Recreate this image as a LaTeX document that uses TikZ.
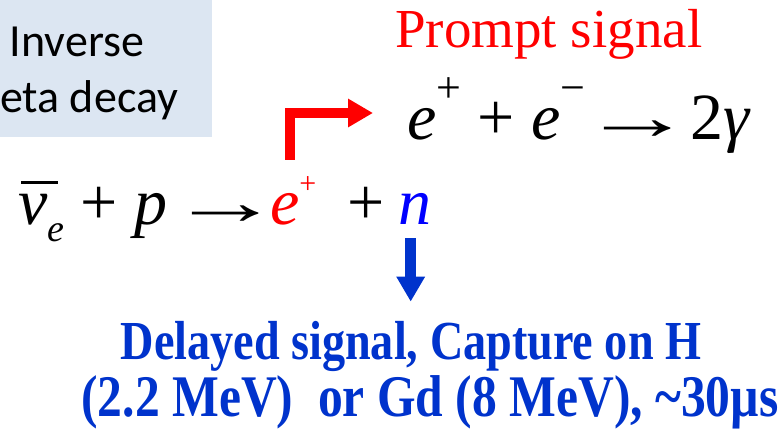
\documentclass[tikz,border=0pt]{standalone}
\usepackage{graphicx}
\usepackage{fontspec}
\setmainfont{Liberation Serif}
\newfontfamily\boxfont{Carlito}
\newfontfamily\delayfont[FakeStretch=0.84]{Liberation Serif}
\usetikzlibrary{arrows.meta, calc}
\definecolor{boxblue}{RGB}{220,230,242}
\definecolor{delayblue}{RGB}{0,51,204}
\newcommand{\supsmall}[1]{\raisebox{31pt}{\fontsize{30}{30}\selectfont #1}}
\newcommand{\supbig}[1]{\raisebox{37pt}{\fontsize{44}{44}\selectfont #1}}
\newcommand{\barnu}{\leavevmode\rlap{\kern3pt\raisebox{41pt}{\rule{37pt}{3pt}}}{\itshape ν}}
\newcommand{\lowsub}[1]{\raisebox{-17pt}{\fontsize{38}{38}\selectfont\itshape #1}}
\newcommand{\longarr}{\scalebox{1.7}[1]{→}}

\begin{document}
\begin{tikzpicture}[x=1pt, y=-1pt,
    eqn/.style={inner sep=0pt, anchor=base west, font=\fontsize{66}{66}\selectfont},
    sigred/.style={draw=red, line width=10pt, line join=miter, -{Triangle[length=25pt, width=27pt]}},
    sigblue/.style={draw=delayblue, line width=11pt, -{Triangle[length=25pt, width=27pt]}}]
    \useasboundingbox (0,0) rectangle (780,430);
    \begin{scope}
        \clip (0,0) rectangle (212,137);
        \fill[boxblue] (0,0) rectangle (212,137);
        \node[inner sep=0pt, anchor=base, align=center, font=\boxfont\fontsize{46}{56}\selectfont] (ibd) at (77,113) {Inverse\\beta decay};
    \end{scope}
    \node[inner sep=0pt, anchor=base west, text=red, font=\fontsize{55}{55}\selectfont] (prompt) at (395,48) {Prompt signal};
    \node[eqn] (react) at (407,140) {{\itshape e}\supbig{+} + {\itshape e}\supbig{−}\hspace{-4pt}\longarr\hspace{-3pt}2{\itshape γ}};
    \node[eqn] (lhs) at (18,225) {\barnu\lowsub{e} + {\itshape p}\hspace{2pt}\longarr};
    \node[eqn, text=red] (pos) at (270,225) {{\itshape e}\supsmall{+}};
    \node[eqn] (plusn) at (347,225) {+};
    \node[eqn, text=blue] (neu) at (398,225) {{\itshape n}};
    \node[inner sep=0pt, anchor=base, align=center, text=delayblue, font=\delayfont\bfseries\fontsize{55}{57}\selectfont] (delay) at (430,417) {Delayed signal, Capture on H\hspace*{38pt}\\{\fontsize{59}{57}\selectfont(2.2 MeV)\ \ or Gd (8 MeV), \textasciitilde30µs}};
    \coordinate (tip) at ($(react.base west)+(-34,-27)$);
    \draw[sigred] ([xshift=-3.5pt, yshift=17pt]pos.north) |- (tip);
    \draw[sigblue] ([xshift=-4pt, yshift=-13pt]neu.south) -- ([xshift=-4pt, yshift=20pt]neu.south |- delay.north);
\end{tikzpicture}
\end{document}
